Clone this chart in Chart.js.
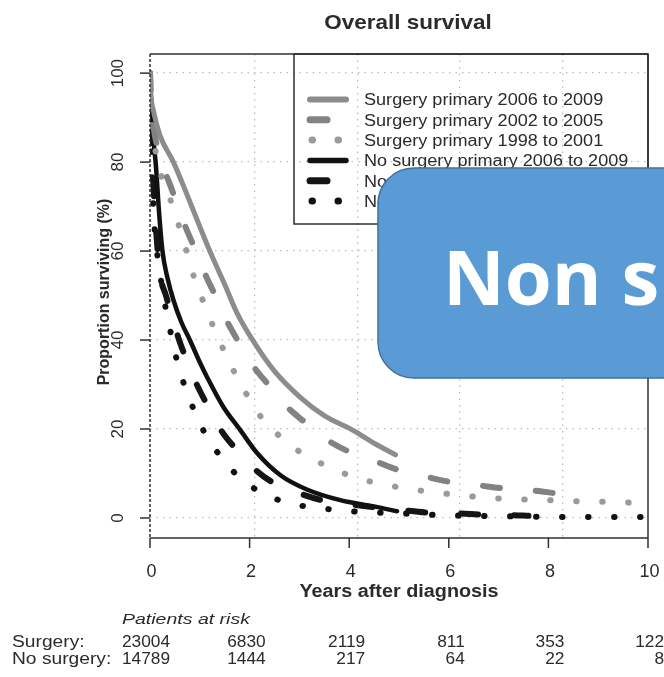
<!DOCTYPE html>
<html>
<head>
<meta charset="utf-8">
<title>Overall survival</title>
<script src="https://cdn.jsdelivr.net/npm/chart.js@4.4.0/dist/chart.umd.min.js"></script>
<style>
  html, body { margin: 0; padding: 0; background: #ffffff; }
  canvas { display: block; }
</style>
</head>
<body>
<canvas id="survivalChart" width="664" height="677"></canvas>
<script>
// Axis ticks
const xTicks = [0, 2, 4, 6, 8, 10];
const yTicks = [0, 20, 40, 60, 80, 100];
// The dotted vertical grid of the original sits a little off the year ticks
const xGridLines = [2.1, 4.16, 6.22, 8.28];

// Years after diagnosis / proportion surviving (%) for each group
const surg0609Years = [0, 0.02, 0.07, 0.2, 0.47, 0.75, 1.0, 1.24, 1.5, 1.75, 2.13, 2.5, 3.0, 3.5, 4.06, 4.5, 4.93];
const surg0609Surv  = [100, 95, 91.5, 86, 80, 72.5, 65.5, 59, 52.5, 46, 38.8, 33, 27.3, 23, 19.8, 16.8, 14.2];

const surg0205Years = [0, 0.02, 0.07, 0.2, 0.4, 0.7, 0.87, 1.14, 1.31, 1.51, 1.74, 2.07, 2.35, 2.75, 3.08, 3.58, 3.98, 4.56, 4.96, 5.54, 5.98, 6.63, 7.07, 7.68, 8.12];
const surg0205Surv  = [100, 93, 88, 81, 75, 65.8, 61.3, 54, 50, 45, 40.3, 34.2, 30.3, 25, 21.8, 17.4, 15, 12.6, 10.9, 9.3, 8.2, 7.3, 6.7, 6.2, 5.6];

const surg9801Years = [0, 0.02, 0.08, 0.2, 0.44, 0.6, 0.75, 0.9, 1.09, 1.29, 1.51, 1.74, 2.0, 2.29, 2.68, 3.1, 3.59, 4.07, 4.57, 5.11, 5.6, 6.16, 6.7, 7.2, 7.75, 8.26, 8.8, 9.35, 9.86, 10];
const surg9801Surv  = [100, 92, 85, 78, 70.6, 65, 59.3, 53.6, 48.1, 42.5, 37, 31.8, 26.7, 21.8, 17.7, 14.2, 11.5, 9.3, 7.8, 6.7, 5.9, 5.2, 4.6, 4.3, 4.1, 3.9, 3.7, 3.6, 3.4, 3.4];

const noSurg0609Years = [0, 0.02, 0.06, 0.12, 0.18, 0.25, 0.35, 0.47, 0.63, 0.8, 1.0, 1.14, 1.47, 1.81, 2.15, 2.62, 3.15, 3.82, 4.49, 4.96];
const noSurg0609Surv  = [100, 92, 86, 79, 69, 60, 54, 49, 44, 40, 35, 31.8, 25, 19.8, 14.6, 9.6, 6.4, 4.0, 2.6, 1.5];

const noSurg0205Years = [0, 0.02, 0.06, 0.12, 0.2, 0.32, 0.44, 0.57, 0.7, 0.94, 1.14, 1.44, 1.71, 2.15, 2.48, 3.08, 3.45, 4.06, 4.5, 5.0, 5.58, 6.23, 6.67, 7.28, 7.6];
const noSurg0205Surv  = [100, 88, 77, 65, 55, 50, 45.5, 40.5, 36.5, 30, 25.6, 19.5, 15.7, 10.5, 7.9, 5.2, 4.0, 3.0, 2.4, 1.85, 1.2, 1.0, 0.75, 0.65, 0.5];

const noSurg9801Years = [0, 0.02, 0.06, 0.1, 0.17, 0.34, 0.45, 0.57, 0.74, 0.93, 1.17, 1.49, 1.85, 2.29, 2.78, 3.3, 3.82, 4.35, 4.89, 5.94, 7.0, 8.08, 9.0, 10];
const noSurg9801Surv  = [100, 84, 72, 64, 57.4, 45.6, 40, 34, 28.4, 23, 17.7, 12.9, 8.5, 5.5, 3.3, 2.4, 1.7, 1.3, 1.1, 0.6, 0.4, 0.25, 0.2, 0.2];

const seriesNames = [
    "Surgery primary 2006 to 2009",
    "Surgery primary 2002 to 2005",
    "Surgery primary 1998 to 2001",
    "No surgery primary 2006 to 2009",
    "No surgery primary 2002 to 2005",
    "No surgery primary 1998 to 2001"
];

// Patients at risk table
const riskYears = [0, 2, 4, 6, 8, 10];
const riskSurgery = [23004, 6830, 2119, 811, 353, 122];
const riskNoSurgery = [14789, 1444, 217, 64, 22, 8];

const DASHED = [17, 36];
const DOTTED = [0.5, 25.5];
const TEXT = "#2b2b2b";

Chart.defaults.font.family = "'Liberation Sans', Arial, sans-serif";

// Turn the paired arrays into points for the line
function toPoints(years, surv) {
    return years.map((t, i) => ({ x: t, y: surv[i] }));
}

function lineSet(label, years, surv, color, width, dash) {
    return {
        label: label,
        data: toPoints(years, surv),
        borderColor: color,
        borderWidth: width,
        borderDash: dash,
        borderCapStyle: "round",
        borderJoinStyle: "round",
        cubicInterpolationMode: "monotone",
        pointRadius: 0,
        fill: false
    };
}

// Text with an optional horizontal stretch (the scan is a bit wide)
function drawText(ctx, text, x, y, font, align, stretch, rotate) {
    ctx.save();
    ctx.translate(x, y);
    if (rotate) ctx.rotate(rotate);
    ctx.scale(stretch || 1, 1);
    ctx.font = font;
    ctx.fillStyle = TEXT;
    ctx.textAlign = align || "left";
    ctx.textBaseline = "alphabetic";
    ctx.fillText(text, 0, 0);
    ctx.restore();
}

function line(ctx, x1, y1, x2, y2) {
    ctx.beginPath();
    ctx.moveTo(x1, y1);
    ctx.lineTo(x2, y2);
    ctx.stroke();
}

// Frame, ticks, labels, legend, risk table and the callout box
const decorations = {
    id: "decorations",
    afterDraw(chart) {
        const ctx = chart.ctx;
        const a = chart.chartArea;
        const xs = chart.scales.x;
        const ys = chart.scales.y;

        ctx.save();
        ctx.strokeStyle = "#2f2f2f";
        ctx.lineWidth = 1.5;
        line(ctx, a.left, a.top, a.right, a.top);
        line(ctx, a.right, a.top, a.right, a.bottom);
        line(ctx, a.left, a.bottom, a.right, a.bottom);
        ctx.setLineDash([3, 2]);
        line(ctx, a.left, a.top, a.left, a.bottom);
        ctx.setLineDash([]);

        // tick marks
        xs.ticks.forEach(t => {
            const px = xs.getPixelForValue(t.value);
            line(ctx, px, a.bottom, px, a.bottom + 10);
        });
        ys.ticks.forEach(t => {
            const py = ys.getPixelForValue(t.value);
            line(ctx, a.left - 10, py, a.left, py);
        });
        ctx.restore();

        // tick labels
        xs.ticks.forEach(t => {
            drawText(ctx, String(t.value), xs.getPixelForValue(t.value) + 1.5, 577, "18px 'Liberation Sans'", "center");
        });
        ys.ticks.forEach(t => {
            drawText(ctx, String(t.value), 123, ys.getPixelForValue(t.value), "17px 'Liberation Sans'", "center", 1, -Math.PI / 2);
        });

        // titles
        drawText(ctx, "Overall survival", 408, 29, "bold 21px 'Liberation Sans'", "center", 1.07);
        drawText(ctx, "Years after diagnosis", 399, 597, "bold 18px 'Liberation Sans'", "center", 1.1);
        drawText(ctx, "Proportion surviving (%)", 109, 292, "bold 16px 'Liberation Sans'", "center", 1, -Math.PI / 2);

        // legend
        ctx.save();
        ctx.strokeStyle = "#2f2f2f";
        ctx.lineWidth = 1.5;
        ctx.strokeRect(294, a.top, a.right - 294, 170);
        chart.data.datasets.forEach((ds, i) => {
            const cy = 99.5 + i * 20.3;
            ctx.save();
            ctx.strokeStyle = ds.borderColor;
            ctx.lineWidth = ds.borderWidth + 1;
            ctx.lineCap = "round";
            ctx.setLineDash(ds.borderDash);
            if (ds.borderDash === DOTTED) {
                line(ctx, 312, cy, 340, cy);
            } else {
                line(ctx, 310, cy, 346, cy);
            }
            ctx.restore();
            drawText(ctx, seriesNames[i], 364, cy + 5.8, "16px 'Liberation Sans'", "left", 1.13);
        });
        ctx.restore();

        // patients at risk
        drawText(ctx, "Patients at risk", 122, 624, "italic 15px 'Liberation Sans'", "left", 1.3);
        drawText(ctx, "Surgery:", 12, 647, "16px 'Liberation Sans'", "left", 1.2);
        drawText(ctx, "No surgery:", 12, 664, "16px 'Liberation Sans'", "left", 1.2);
        riskYears.forEach((t, i) => {
            const px = xs.getPixelForValue(t) + (i === 0 ? 20 : 16);
            drawText(ctx, String(riskSurgery[i]), px, 647, "16px 'Liberation Sans'", "right", 1.08);
            drawText(ctx, String(riskNoSurgery[i]), px, 664, "16px 'Liberation Sans'", "right", 1.08);
        });

        // blue callout box laid over the chart
        const bx = 378, by = 168, bw = 340, bh = 210, r = 36;
        ctx.save();
        ctx.beginPath();
        ctx.moveTo(bx + r, by);
        ctx.lineTo(bx + bw - r, by);
        ctx.arcTo(bx + bw, by, bx + bw, by + r, r);
        ctx.lineTo(bx + bw, by + bh - r);
        ctx.arcTo(bx + bw, by + bh, bx + bw - r, by + bh, r);
        ctx.lineTo(bx + r, by + bh);
        ctx.arcTo(bx, by + bh, bx, by + bh - r, r);
        ctx.lineTo(bx, by + r);
        ctx.arcTo(bx, by, bx + r, by, r);
        ctx.closePath();
        ctx.fillStyle = "#5b9bd5";
        ctx.fill();
        ctx.strokeStyle = "#41719c";
        ctx.lineWidth = 1.5;
        ctx.stroke();
        ctx.font = "bold 76px 'Open Sans'";
        ctx.fillStyle = "#ffffff";
        ctx.textAlign = "left";
        ctx.textBaseline = "alphabetic";
        ctx.fillText("Non surgery", 443, 305);
        ctx.restore();
    }
};

const datasets = [
    lineSet(seriesNames[0], surg0609Years, surg0609Surv, "#8c8c8c", 5, []),
    lineSet(seriesNames[1], surg0205Years, surg0205Surv, "#828282", 6, DASHED),
    lineSet(seriesNames[2], surg9801Years, surg9801Surv, "#9a9a9a", 6, DOTTED),
    lineSet(seriesNames[3], noSurg0609Years, noSurg0609Surv, "#111111", 4.5, []),
    lineSet(seriesNames[4], noSurg0205Years, noSurg0205Surv, "#151515", 6, DASHED),
    lineSet(seriesNames[5], noSurg9801Years, noSurg9801Surv, "#111111", 6, DOTTED)
];

new Chart(document.getElementById("survivalChart"), {
    type: "line",
    data: { datasets: datasets },
    options: {
        responsive: false,
        animation: false,
        devicePixelRatio: 1,
        layout: { padding: { left: 150, top: 54, right: 16, bottom: 139 } },
        plugins: {
            legend: { display: false },
            title: { display: false },
            tooltip: { enabled: false }
        },
        scales: {
            x: {
                type: "linear",
                min: 0,
                max: 10,
                afterBuildTicks: s => { s.ticks = xTicks.map(v => ({ value: v })); },
                afterFit: s => { s.height = 0; },
                ticks: { display: false },
                grid: { display: false },
                border: { display: false }
            },
            xGrid: {
                type: "linear",
                position: "bottom",
                min: 0,
                max: 10,
                afterBuildTicks: s => { s.ticks = xGridLines.map(v => ({ value: v })); },
                afterFit: s => { s.height = 0; },
                ticks: { display: false },
                grid: { color: "#bdbdbd", lineWidth: 1.3, drawTicks: false },
                border: { display: false, dash: [1.5, 5] }
            },
            y: {
                type: "linear",
                min: -4.5,
                max: 104.3,
                afterBuildTicks: s => { s.ticks = yTicks.map(v => ({ value: v })); },
                afterFit: s => { s.width = 0; },
                ticks: { display: false },
                grid: { color: "#bdbdbd", lineWidth: 1.3, drawTicks: false },
                border: { display: false, dash: [1.5, 5] }
            }
        }
    },
    plugins: [decorations]
});
</script>
</body>
</html>
